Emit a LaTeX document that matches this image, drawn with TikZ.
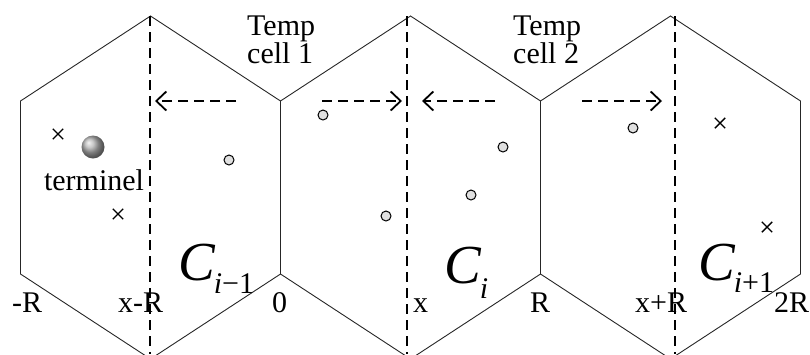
\documentclass[tikz,border=0pt]{standalone}
\usepackage{fontspec}
\setmainfont{Liberation Serif}
\usetikzlibrary{arrows.meta,shapes.misc}

\begin{document}
\begin{tikzpicture}[x=1pt,y=-1pt,
    hexline/.style={draw=black!85, line width=0.9pt},
    cutline/.style={line width=2.8pt, dash pattern=on 10pt off 6pt},
    dasharrow/.style={line width=2.4pt, dash pattern=on 10pt off 6pt, -{Straight Barb[length=10pt,width=19pt,line width=1.8pt]}},
    usr/.style={circle, draw, fill=black!12, line width=1pt, minimum size=10pt, inner sep=0pt},
    xmark/.style={cross out, draw, line width=1.4pt, minimum size=9pt, inner sep=0pt},
    lbl/.style={font=\fontsize{30}{28}\selectfont, inner sep=0pt, anchor=base west}]
  \useasboundingbox (0,0) rectangle (810,354);
  \clip (0,0) rectangle (810,354);
  % three cells
  \foreach \cx in {150.5,410.5,670.5}
    \draw[hexline] (\cx,16) -- (\cx+130,101) -- (\cx+130,274) -- (\cx,359)
      -- (\cx-130,274) -- (\cx-130,101) -- cycle;
  % cut lines x-R, x, x+R
  \coordinate (t1) at (150,16);  \coordinate (b1) at (150,354);
  \coordinate (t2) at (407,16);  \coordinate (b2) at (407,354);
  \coordinate (t3) at (675,16);  \coordinate (b3) at (675,354);
  \draw[cutline] (t1) -- (b1);
  \draw[cutline] (t2) -- (b2);
  \draw[cutline] (t3) -- (b3);
  % shifts
  \coordinate (s1) at (236,101); \coordinate (e1) at (155,101);
  \coordinate (s2) at (322,101); \coordinate (e2) at (402,101);
  \coordinate (s3) at (495,101); \coordinate (e3) at (422,101);
  \coordinate (s4) at (582,101); \coordinate (e4) at (662,101);
  \draw[dasharrow] (s1) -- (e1);
  \draw[dasharrow] (s2) -- (e2);
  \draw[dasharrow] (s3) -- (e3);
  \draw[dasharrow] (s4) -- (e4);
  % users
  \node[usr] (u1) at (229,160) {};
  \node[usr] (u2) at (323,115) {};
  \node[usr] (u3) at (386,216) {};
  \node[usr] (u4) at (503,147) {};
  \node[usr] (u5) at (471,195) {};
  \node[usr] (u6) at (633,128) {};
  \node[xmark] (m1) at (58,134) {};
  \node[xmark] (m2) at (118,214) {};
  \node[xmark] (m3) at (720,123) {};
  \node[xmark] (m4) at (767,227) {};
  \node[circle, minimum size=23pt, inner sep=0pt, ball color=black!30] (term) at (93,147) {};
  \node[lbl, anchor=base] (termtxt) at (94,190) {terminel};
  % temp cells
  \node[lbl, anchor=north west, align=left] (tmp1) at (247,16) {Temp\\cell 1};
  \node[lbl, anchor=north west, align=left] (tmp2) at (513,16) {Temp\\cell 2};
  % cell names
  \node[lbl] (c1) at (178,280) {{\fontsize{55}{55}\selectfont\itshape C}\kern-1pt\raisebox{-13pt}{\itshape i\upshape−1}};
  \node[lbl] (c2) at (444,283) {{\fontsize{55}{55}\selectfont\itshape C}\kern-1pt\raisebox{-15pt}{\itshape i}};
  \node[lbl] (c3) at (698,280) {{\fontsize{55}{55}\selectfont\itshape C}\kern-1pt\raisebox{-12pt}{\itshape i\upshape+1}};
  % positions
  \node[lbl] (p1) at (12,312) {-R};
  \node[lbl] (p2) at (118,312) {x-R};
  \node[lbl] (p3) at (272,312) {0};
  \node[lbl] (p4) at (413,312) {x};
  \node[lbl] (p5) at (530,312) {R};
  \node[lbl] (p6) at (635,312) {x+R};
  \node[lbl] (p7) at (774,312) {2R};
\end{tikzpicture}
\end{document}
